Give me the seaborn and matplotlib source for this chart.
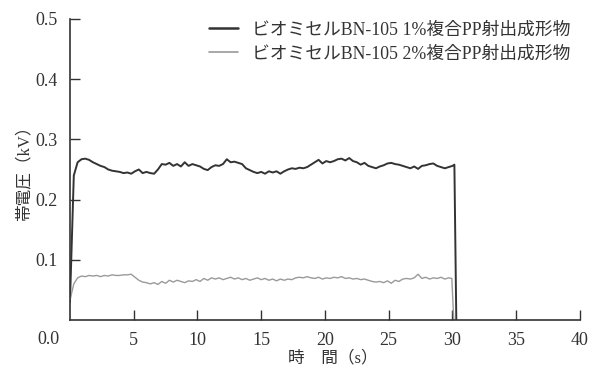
import matplotlib
matplotlib.use("Agg")
import matplotlib.pyplot as plt
import seaborn as sns
import pandas as pd
from matplotlib.lines import Line2D

sns.set_theme(style="ticks")
plt.rcParams["font.family"] = ["Liberation Serif", "Noto Sans CJK JP"]

# Sampling instants (s)
time_1 = [0.0, 0.3, 0.6, 0.9, 1.2, 1.5, 1.8, 2.1, 2.4, 2.7, 3.0, 3.3, 3.6, 3.9, 4.2, 4.5,
          4.8, 5.1, 5.4, 5.7, 6.0, 6.3, 6.6, 6.9, 7.2, 7.5, 7.8, 8.1, 8.4, 8.7, 9.0, 9.3,
          9.6, 9.9, 10.2, 10.5, 10.8, 11.1, 11.4, 11.7, 12.0, 12.3, 12.6, 12.9, 13.2, 13.5,
          13.8, 14.1, 14.4, 14.7, 15.0, 15.3, 15.6, 15.9, 16.2, 16.5, 16.8, 17.1, 17.4, 17.7,
          18.0, 18.3, 18.6, 18.9, 19.2, 19.5, 19.8, 20.1, 20.4, 20.7, 21.0, 21.3, 21.6, 21.9,
          22.2, 22.5, 22.8, 23.1, 23.4, 23.7, 24.0, 24.3, 24.6, 24.9, 25.2, 25.5, 25.8, 26.1,
          26.4, 26.7, 27.0, 27.3, 27.6, 27.9, 28.2, 28.5, 28.8, 29.1, 29.4, 29.7, 30.0, 30.15,
          30.3]
# BN-105 1% composite (kV)
volt_1 = [0.030, 0.240, 0.262, 0.267, 0.268, 0.266, 0.262, 0.259, 0.256, 0.254, 0.250, 0.248,
          0.247, 0.246, 0.244, 0.245, 0.243, 0.247, 0.250, 0.244, 0.246, 0.244, 0.243, 0.250,
          0.259, 0.258, 0.261, 0.256, 0.259, 0.255, 0.262, 0.256, 0.259, 0.257, 0.255, 0.251,
          0.249, 0.254, 0.257, 0.256, 0.259, 0.267, 0.262, 0.263, 0.261, 0.259, 0.252, 0.249,
          0.246, 0.244, 0.246, 0.243, 0.247, 0.245, 0.247, 0.243, 0.247, 0.250, 0.252, 0.251,
          0.253, 0.252, 0.254, 0.258, 0.262, 0.266, 0.260, 0.264, 0.262, 0.264, 0.267, 0.268,
          0.265, 0.269, 0.264, 0.262, 0.258, 0.261, 0.256, 0.254, 0.252, 0.255, 0.257, 0.260,
          0.261, 0.259, 0.258, 0.256, 0.254, 0.252, 0.255, 0.251, 0.256, 0.257, 0.259, 0.260,
          0.256, 0.254, 0.252, 0.254, 0.256, 0.258, 0.0]

time_2 = [0.0, 0.3, 0.6, 0.9, 1.2, 1.5, 1.8, 2.1, 2.4, 2.7, 3.0, 3.3, 3.6, 3.9, 4.2, 4.5,
          4.8, 5.1, 5.4, 5.7, 6.0, 6.3, 6.6, 6.9, 7.2, 7.5, 7.8, 8.1, 8.4, 8.7, 9.0, 9.3,
          9.6, 9.9, 10.2, 10.5, 10.8, 11.1, 11.4, 11.7, 12.0, 12.3, 12.6, 12.9, 13.2, 13.5,
          13.8, 14.1, 14.4, 14.7, 15.0, 15.3, 15.6, 15.9, 16.2, 16.5, 16.8, 17.1, 17.4, 17.7,
          18.0, 18.3, 18.6, 18.9, 19.2, 19.5, 19.8, 20.1, 20.4, 20.7, 21.0, 21.3, 21.6, 21.9,
          22.2, 22.5, 22.8, 23.1, 23.4, 23.7, 24.0, 24.3, 24.6, 24.9, 25.2, 25.5, 25.8, 26.1,
          26.4, 26.7, 27.0, 27.3, 27.6, 27.9, 28.2, 28.5, 28.8, 29.1, 29.4, 29.7, 29.95, 30.1]
# BN-105 2% composite (kV)
volt_2 = [0.033, 0.060, 0.070, 0.073, 0.072, 0.074, 0.073, 0.074, 0.072, 0.074, 0.073, 0.075,
          0.074, 0.074, 0.075, 0.075, 0.076, 0.071, 0.066, 0.063, 0.062, 0.060, 0.062, 0.059,
          0.064, 0.061, 0.066, 0.063, 0.066, 0.064, 0.062, 0.065, 0.064, 0.067, 0.064, 0.069,
          0.066, 0.070, 0.068, 0.070, 0.067, 0.069, 0.071, 0.068, 0.070, 0.067, 0.069, 0.066,
          0.068, 0.070, 0.067, 0.069, 0.066, 0.068, 0.065, 0.068, 0.066, 0.068, 0.067, 0.070,
          0.071, 0.070, 0.072, 0.070, 0.069, 0.071, 0.068, 0.070, 0.069, 0.071, 0.070, 0.072,
          0.069, 0.070, 0.068, 0.069, 0.067, 0.068, 0.066, 0.064, 0.063, 0.064, 0.062, 0.065,
          0.061, 0.066, 0.064, 0.068, 0.069, 0.068, 0.070, 0.076, 0.069, 0.071, 0.068, 0.070,
          0.069, 0.071, 0.068, 0.070, 0.069, 0.0]

labels = ["ビオミセルBN-105 1%複合PP射出成形物", "ビオミセルBN-105 2%複合PP射出成形物"]
colors = ["#333333", "#9a9a9a"]
widths = [1.4, 1.0]

x_ticks = [5, 10, 15, 20, 25, 30, 35, 40]
y_ticks = [0.1, 0.2, 0.3, 0.4, 0.5]

df1 = pd.DataFrame({"t": time_1, "v": volt_1})
df2 = pd.DataFrame({"t": time_2, "v": volt_2})

fig = plt.figure(figsize=(5.9, 3.71), dpi=100)
ax = fig.add_axes([0.1186, 0.1375, 0.8644, 0.8113])

sns.lineplot(data=df1, x="t", y="v", ax=ax, color=colors[0], linewidth=widths[0],
             estimator=None, sort=False)
sns.lineplot(data=df2, x="t", y="v", ax=ax, color=colors[1], linewidth=widths[1],
             estimator=None, sort=False)

ax.set_xlim(0, 40)
ax.set_ylim(0, 0.5)
ax.set_xticks(x_ticks)
ax.set_xticklabels([str(v) for v in x_ticks])
ax.set_yticks(y_ticks)
ax.set_yticklabels([f"{v:.1f}" for v in y_ticks])

for side in ["top", "right"]:
    ax.spines[side].set_visible(False)
for side in ["left", "bottom"]:
    ax.spines[side].set_color("#333333")
    ax.spines[side].set_linewidth(1.2)

ax.tick_params(axis="both", direction="in", length=7, width=1.0, color="#333333",
               labelsize=13, labelcolor="#333333")
ax.tick_params(axis="x", pad=9)
ax.tick_params(axis="y", pad=9)

# origin label shared by both axes
ax.annotate("0.0", xy=(0, 0), xycoords="axes fraction", xytext=(-10, -11),
            textcoords="offset pixels", ha="right", va="top", fontsize=13,
            color="#333333")

ax.set_xlabel("時　間（s）", fontsize=12, color="#333333")
ax.xaxis.set_label_coords(0.515, -0.1)
ax.set_ylabel("帯電圧（kV）", fontsize=12, color="#333333", labelpad=2)

handles = [Line2D([], [], color=colors[0], linewidth=1.8),
           Line2D([], [], color=colors[1], linewidth=1.2)]
ax.legend(handles, labels, loc="upper right", bbox_to_anchor=(0.995, 1.015),
          borderaxespad=0, frameon=False, fontsize=12.8, handlelength=1.6,
          handletextpad=0.8, labelspacing=0.4, labelcolor="#333333")

fig.savefig("out.png", dpi=100)
